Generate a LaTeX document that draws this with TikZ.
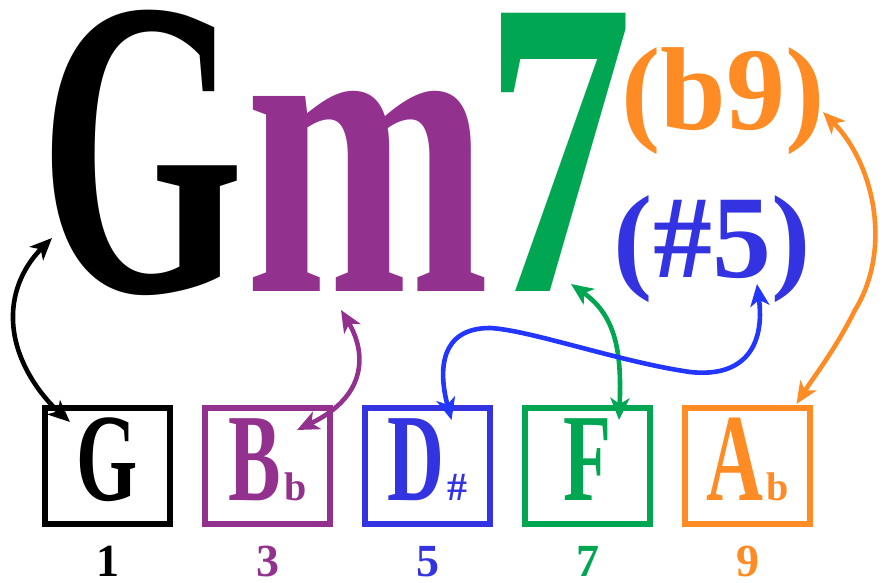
\documentclass[tikz,border=0pt]{standalone}
\usepackage{fontspec}
\setmainfont{Liberation Serif}
\usepackage{graphicx}
\usetikzlibrary{arrows.meta, positioning}
\definecolor{chordpurple}{RGB}{147,50,142}
\definecolor{chordblue}{RGB}{51,51,226}
\definecolor{linkblue}{RGB}{34,54,255}
\definecolor{chordgreen}{RGB}{0,166,81}
\definecolor{chordorange}{RGB}{255,139,37}
\newcommand{\narrow}[1]{\scalebox{0.63}[1]{#1}}
\newcommand{\acc}[1]{\hspace{3pt}{\fontsize{40}{40}\selectfont #1}}

\begin{document}
\begin{tikzpicture}[
  x=1pt, y=-1pt,
  big/.style={anchor=base, inner sep=0pt,
              font=\fontsize{425}{425}\selectfont\bfseries},
  ext/.style={anchor=base, inner sep=0pt,
              font=\fontsize{118}{118}\selectfont\bfseries},
  note/.style={rectangle, draw, line width=6pt, minimum width=125pt,
               minimum height=116pt, inner sep=0pt, text height=90pt,
               text depth=22pt, font=\fontsize{125}{125}\selectfont\bfseries},
  deg/.style={below=19pt of #1, inner sep=0pt,
              font=\fontsize{46}{46}\selectfont\bfseries},
  link/.style={{Stealth[length=22pt, width=19pt, inset=6pt]}-{Stealth[length=22pt, width=19pt, inset=6pt]},
               line width=4.6pt}
]
  \useasboundingbox (0,0) rectangle (883,583);

  \node[big, xscale=0.62] (gl) at (142,291) {G};
  \node[big, xscale=0.69, text=chordpurple] (ml) at (368,291) {m};
  \node[big, xscale=0.70, text=chordgreen] (sev) at (559,291) {7};
  \node[ext, text=chordorange] (flat9) at (723,130) {(b9)};
  \node[ext, text=chordblue] (sharp5) at (712,277) {(\#5)};

  \node[note] (g) at (107.5,466) {\narrow{G}};
  \node[note, draw=chordpurple, text=chordpurple, right=29pt of g] (bb) {\narrow{B}\acc{b}};
  \node[note, draw=chordblue, text=chordblue, right=29pt of bb] (d) {\narrow{D}\acc{\#}};
  \node[note, draw=chordgreen, text=chordgreen, right=29pt of d] (f) {\narrow{F}};
  \node[note, draw=chordorange, text=chordorange, right=29pt of f] (ab) {\narrow{A}\acc{b}};

  \node[deg=g] (n1) {1};
  \node[deg=bb, text=chordpurple] (n3) {3};
  \node[deg=d, text=chordblue] (n5) {5};
  \node[deg=f, text=chordgreen] (n7) {7};
  \node[deg=ab, text=chordorange] (n9) {9};

  \coordinate (gtip) at (52,238);
  \coordinate (mtip) at (341,310);
  \coordinate (sevtip) at (571,284);
  \coordinate (fivetip) at (757,284);
  \coordinate (ninetip) at (823,112);

  \draw[link] (gtip) .. controls (25,265) and (12,290) .. (13,320)
    .. controls (14,360) and (40,395) .. ([xshift=28pt, yshift=-17pt]g.north west);
  \draw[link, chordpurple] (mtip) .. controls (365,350) and (370,395)
    .. ([xshift=-36pt, yshift=-25pt]bb.north east);
  \draw[link, chordgreen] (sevtip) .. controls (615,315) and (622,350)
    .. ([xshift=31.5pt, yshift=-15pt]f.north);
  \draw[link, linkblue] (fivetip) .. controls (765,345) and (745,378) .. (690,372)
    .. controls (620,362) and (530,330) .. (490,328)
    .. controls (440,328) and (438,370) .. ([xshift=24pt, yshift=-15pt]d.north);
  \draw[link, chordorange] (ninetip) .. controls (875,165) and (892,250) .. (855,310)
    .. controls (835,350) and (815,375) .. ([xshift=49pt, yshift=1pt]ab.north);
\end{tikzpicture}
\end{document}
